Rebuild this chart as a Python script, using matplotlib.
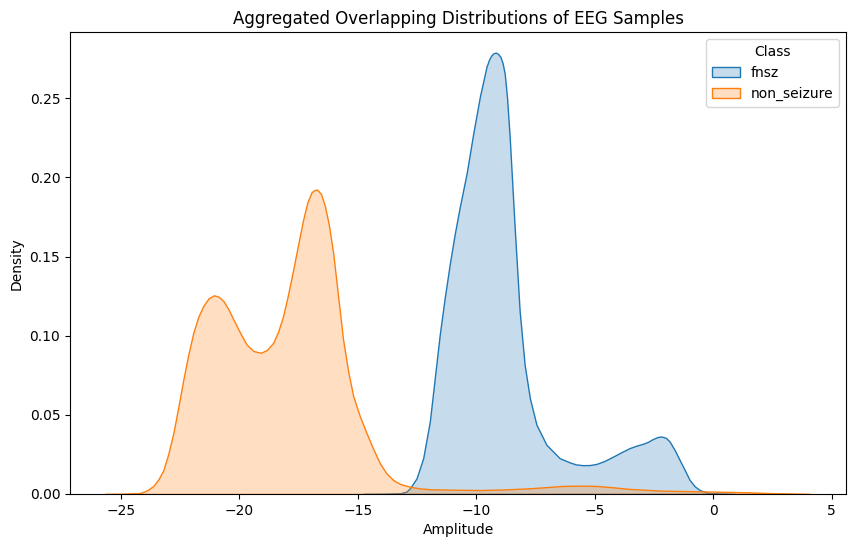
import numpy as np
import matplotlib
matplotlib.use("Agg")
import matplotlib.pyplot as plt
from matplotlib.colors import to_rgba
from matplotlib.patches import Patch

# density curves (amplitude, density)
fnsz_x= [-14.77, -13.9, -13.22, -12.95, -12.80, -12.52, -12.24, -11.96, -11.75, -11.54, -11.33, -11.12, -10.91,
         -10.70, -10.41, -10.13, -9.85, -9.57, -9.45, -9.36, -9.27, -9.18, -9.08, -8.98, -8.89, -8.80, -8.70,
         -8.59, -8.38, -8.17, -7.96, -7.74, -7.46, -7.04, -6.48, -6.06, -5.80, -5.50, -5.2, -4.93, -4.6, -4.23,
         -3.9, -3.53, -3.25, -2.97, -2.75, -2.55, -2.35, -2.19, -2.0, -1.84, -1.62, -1.42, -1.2, -1.00, -0.78,
         -0.57, -0.3, -0.03, 0.90]
fnsz_y= [0.0, 0.0001, 0.0004, 0.0015, 0.0036, 0.0099, 0.0226, 0.0458, 0.0733, 0.1008, 0.1240, 0.1451, 0.1641,
         0.1810, 0.2022, 0.2275, 0.2508, 0.2698, 0.2748, 0.2771, 0.2784, 0.2788, 0.2780, 0.2761, 0.2722, 0.2655, 0.2500,
         0.2254, 0.1684, 0.1155, 0.0817, 0.0606, 0.0437, 0.0311, 0.0226, 0.0200, 0.0187, 0.0182, 0.0183, 0.0190, 0.0208, 0.0236,
         0.0262, 0.0290, 0.0305, 0.0317, 0.0330, 0.0347, 0.0360, 0.0363, 0.0355, 0.0331, 0.0275, 0.0215, 0.0150, 0.0089, 0.0048,
         0.0025, 0.0010, 0.0004, 0.0]

non_x= [-25.66, -24.9, -24.19, -23.9, -23.63, -23.40, -23.20, -23.0, -22.78, -22.57, -22.36, -22.15, -21.94,
        -21.73, -21.52, -21.3, -21.07, -20.87, -20.67, -20.46, -20.25, -19.97, -19.69, -19.40, -19.09, -18.83, -18.57,
        -18.36, -18.15, -17.94, -17.72, -17.51, -17.30, -17.12, -16.95, -16.83, -16.71, -16.55, -16.39, -16.22, -16.04,
        -15.83, -15.62, -15.40, -15.19, -14.91, -14.63, -14.35, -14.07, -13.79, -13.51, -13.22, -12.80, -12.4, -11.96,
        -10.9, -9.85, -8.8, -7.74, -7.0, -6.34, -5.6, -4.93, -4.2, -3.53, -2.13, -1.0, 0.02, 1.39, 2.80, 4.07]
non_y= [0.0, 0.0001, 0.0006, 0.0022, 0.0050, 0.0095, 0.0152, 0.025, 0.0385, 0.055, 0.0722, 0.0880, 0.1018,
        0.1118, 0.1187, 0.1235, 0.1255, 0.1246, 0.1219, 0.1168, 0.1103, 0.1020, 0.0944, 0.0903, 0.0892, 0.0910, 0.0955,
        0.1025, 0.1124, 0.1260, 0.1420, 0.1580, 0.1736, 0.1845, 0.1906, 0.1920, 0.1922, 0.1895, 0.1821, 0.1700, 0.1525,
        0.1250, 0.0976, 0.0770, 0.0617, 0.0490, 0.0385, 0.0285, 0.0195, 0.0130, 0.0089, 0.0064, 0.0046, 0.0036, 0.0030,
        0.0027, 0.0025, 0.0029, 0.0036, 0.0044, 0.0051, 0.0053, 0.0051, 0.0042, 0.0032, 0.0021, 0.0018, 0.0015, 0.0011, 0.0004, 0.0]

classes= ["fnsz", "non_seizure"]
colors= ["#1f77b4", "#ff7f0e"]

fig= plt.figure(figsize=(8.55, 5.47), dpi=100)
ax= fig.add_axes([0.0819, 0.0969, 0.9076, 0.8437])

for cx, cy, c in zip([fnsz_x, non_x], [fnsz_y, non_y], colors):
    ax.fill_between(np.array(cx), np.array(cy), 0, facecolor=to_rgba(c, 0.25), edgecolor=to_rgba(c, 1.0), linewidth=1.0)

ax.set_xlim(-27.14, 5.6)
ax.set_ylim(0, 0.2915)
ax.set_xlabel("Amplitude")
ax.set_ylabel("Density")
ax.set_title("Aggregated Overlapping Distributions of EEG Samples")

handles= [Patch(facecolor=to_rgba(c, 0.25), edgecolor=c, linewidth=1.0) for c in colors]
ax.legend(handles, classes, title="Class", loc="upper right")

fig.savefig("out.png", dpi=100)
